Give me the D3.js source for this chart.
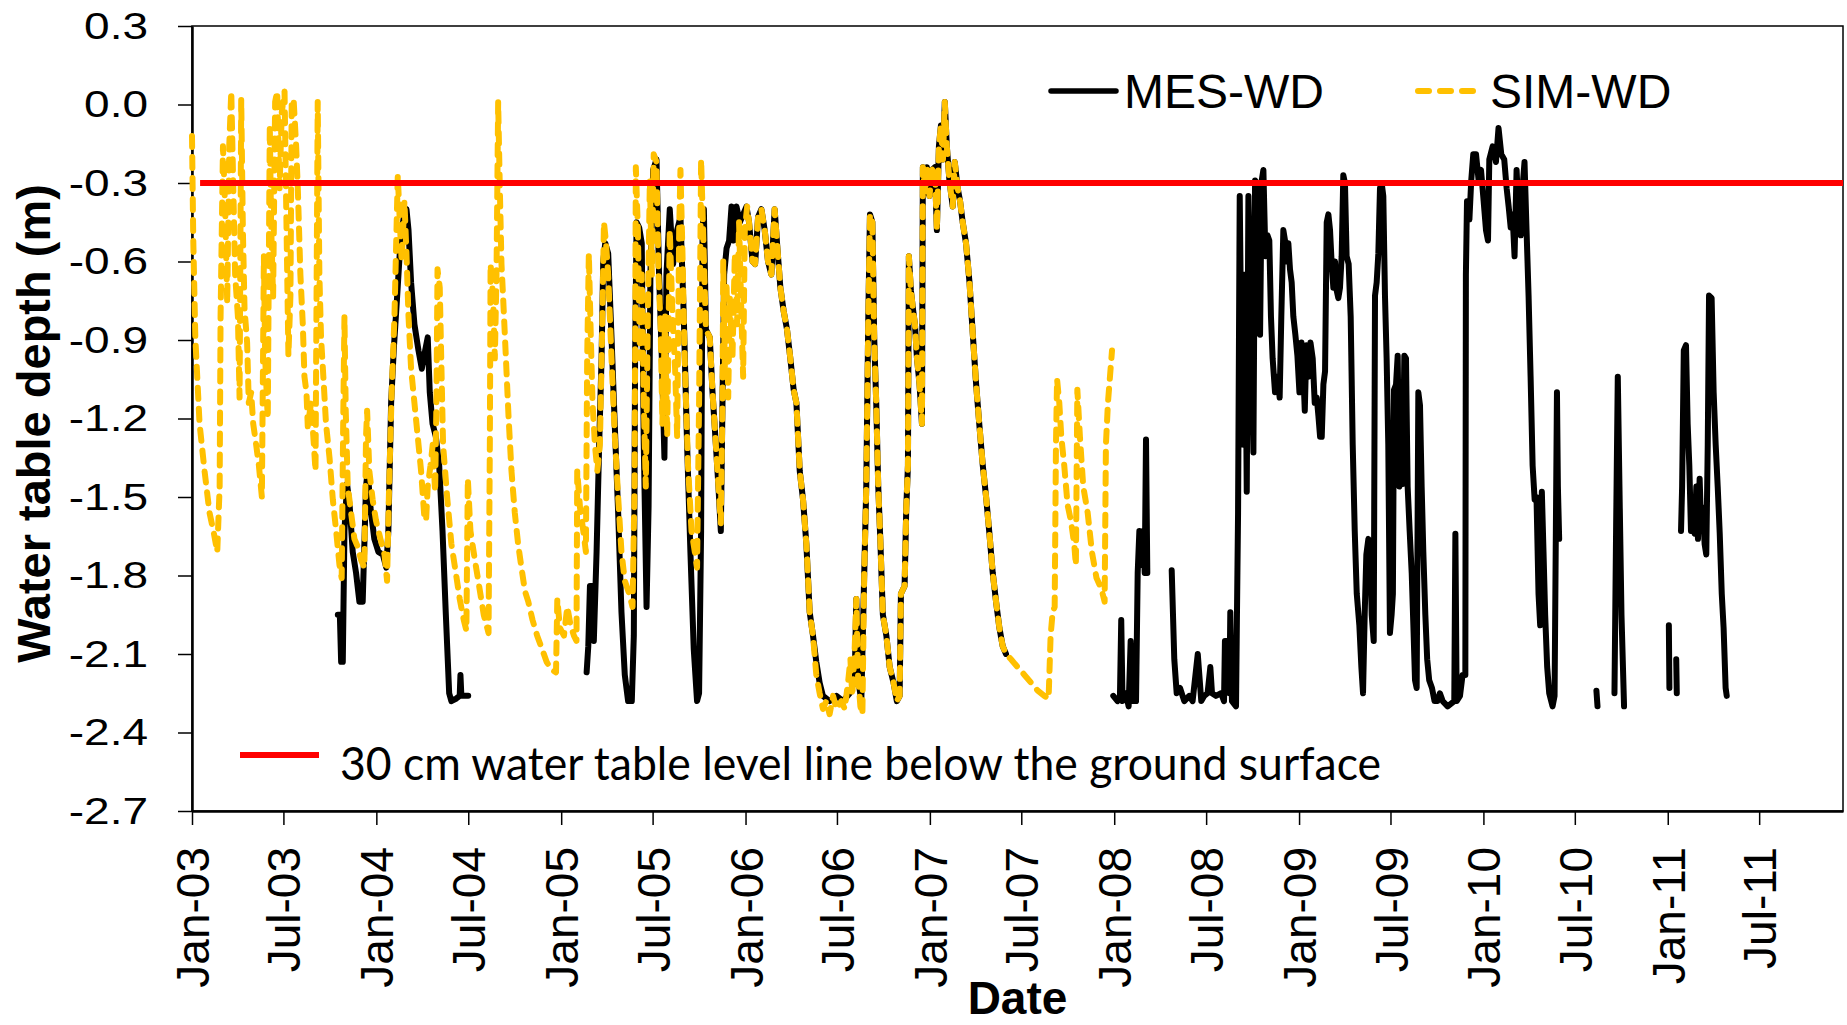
<!DOCTYPE html>
<html>
<head>
<meta charset="utf-8">
<script src="https://cdn.jsdelivr.net/npm/d3@7"></script>
<style>
  body { margin: 0; background: #fff; }
</style>
</head>
<body>
<div id="viz"></div>
<script>
// values: [decimal year, water table depth (m)], null = no record

// measured water depth
const mesWD = [
  [2003.791,-1.95],[2003.802,-1.95],[2003.809,-2.13],[2003.818,-2.13],[2003.827,-1.63],[2003.841,-1.45],[2003.856,-1.54],
  [2003.872,-1.71],[2003.890,-1.79],[2003.908,-1.90],[2003.926,-1.90],[2003.944,-1.46],[2003.953,-1.40],[2003.968,-1.54],
  [2003.989,-1.66],[2004.011,-1.71],[2004.035,-1.72],[2004.054,-1.77],[2004.065,-1.63],[2004.080,-1.14],[2004.094,-0.94],
  [2004.112,-0.74],[2004.130,-0.53],[2004.148,-0.43],[2004.163,-0.40],[2004.174,-0.48],[2004.188,-0.68],[2004.206,-0.84],
  [2004.228,-0.94],[2004.246,-1.01],[2004.264,-0.94],[2004.278,-0.89],[2004.289,-1.10],[2004.304,-1.22],[2004.322,-1.27],
  [2004.340,-1.38],[2004.358,-1.63],[2004.376,-1.95],[2004.394,-2.25],[2004.406,-2.28],[2004.433,-2.27],[2004.451,-2.26],
  [2004.455,-2.18],[2004.460,-2.26],[2004.497,-2.26],
  [2004.600,null],
  [2005.138,-2.17],[2005.147,-2.07],[2005.156,-1.84],[2005.167,-1.84],[2005.177,-2.05],[2005.192,-1.71],[2005.206,-1.30],
  [2005.219,-0.97],[2005.228,-0.60],[2005.239,-0.53],[2005.255,-0.57],[2005.273,-0.89],[2005.291,-1.23],[2005.309,-1.56],
  [2005.327,-1.94],[2005.345,-2.18],[2005.363,-2.28],[2005.383,-2.28],[2005.394,-2.03],[2005.401,-0.97],[2005.409,-0.45],
  [2005.423,-0.47],[2005.437,-0.53],[2005.448,-1.30],[2005.463,-1.92],[2005.474,-1.54],[2005.484,-0.65],[2005.499,-0.25],
  [2005.517,-0.21],[2005.531,-0.65],[2005.546,-0.97],[2005.560,-1.35],[2005.571,-0.65],[2005.589,-0.40],[2005.607,-0.61],
  [2005.629,-0.48],[2005.647,-0.43],[2005.665,-0.81],[2005.683,-1.30],[2005.701,-1.71],[2005.719,-2.08],[2005.737,-2.28],
  [2005.748,-2.25],[2005.759,-1.63],[2005.767,-0.48],[2005.774,-0.40],[2005.785,-0.86],[2005.806,-0.89],[2005.821,-1.10],
  [2005.839,-1.30],[2005.853,-1.46],[2005.866,-1.63],[2005.875,-1.14],[2005.884,-0.65],[2005.897,-0.55],[2005.911,-0.52],
  [2005.924,-0.39],[2005.936,-0.52],[2005.951,-0.39],[2005.969,-0.45],[2005.987,-0.42],[2006.005,-0.39],[2006.019,-0.45],
  [2006.038,-0.60],[2006.052,-0.61],[2006.068,-0.43],[2006.086,-0.40],[2006.104,-0.48],[2006.122,-0.60],[2006.140,-0.65],
  [2006.158,-0.40],[2006.173,-0.55],[2006.189,-0.70],[2006.207,-0.79],[2006.225,-0.86],[2006.243,-0.97],[2006.261,-1.09],
  [2006.276,-1.14],[2006.294,-1.40],[2006.312,-1.51],[2006.330,-1.68],[2006.348,-1.94],[2006.366,-2.03],[2006.384,-2.13],
  [2006.402,-2.21],[2006.420,-2.26],[2006.456,-2.28],[2006.493,-2.26],[2006.529,-2.28],[2006.565,-2.25],[2006.592,-2.20],
  [2006.601,-1.89],[2006.612,-2.20],[2006.628,-2.28],[2006.644,-1.79],[2006.655,-1.46],[2006.666,-0.81],[2006.675,-0.42],
  [2006.688,-0.45],[2006.698,-0.89],[2006.709,-1.14],[2006.720,-1.46],[2006.731,-1.66],[2006.745,-1.95],[2006.764,-2.03],
  [2006.782,-2.15],[2006.803,-2.21],[2006.821,-2.28],[2006.836,-2.26],[2006.843,-1.87],[2006.863,-1.84],[2006.872,-1.54],
  [2006.881,-1.38],[2006.886,-0.58],[2006.897,-0.71],[2006.908,-0.78],[2006.919,-0.84],[2006.930,-0.97],[2006.944,-1.07],
  [2006.957,-1.22],[2006.962,-0.24],[2006.973,-0.34],[2006.984,-0.24],[2006.998,-0.35],[2007.011,-0.25],[2007.027,-0.24],
  [2007.038,-0.48],[2007.049,-0.16],[2007.060,-0.08],[2007.071,-0.21],[2007.081,0.01],[2007.092,-0.16],[2007.106,-0.29],
  [2007.124,-0.39],[2007.135,-0.22],[2007.151,-0.32],[2007.164,-0.37],[2007.178,-0.45],[2007.196,-0.53],[2007.215,-0.68],
  [2007.233,-0.88],[2007.251,-1.07],[2007.269,-1.23],[2007.287,-1.38],[2007.305,-1.50],[2007.323,-1.64],[2007.341,-1.79],
  [2007.359,-1.90],[2007.377,-2.00],[2007.395,-2.07],[2007.413,-2.10],
  [2007.700,null],
  [2007.995,-2.26],[2008.018,-2.28],[2008.031,-2.26],[2008.038,-1.97],[2008.045,-2.28],[2008.063,-2.25],[2008.078,-2.30],
  [2008.089,-2.05],[2008.099,-2.28],[2008.118,-2.28],[2008.127,-1.79],[2008.136,-1.63],[2008.146,-1.76],[2008.157,-1.63],
  [2008.165,-1.79],[2008.172,-1.28],[2008.179,-1.79],
  [2008.250,null],
  [2008.311,-1.78],[2008.325,-2.12],[2008.338,-2.25],[2008.356,-2.23],[2008.379,-2.28],[2008.406,-2.26],[2008.424,-2.28],
  [2008.452,-2.10],[2008.471,-2.28],[2008.487,-2.26],[2008.505,-2.25],[2008.520,-2.15],[2008.529,-2.25],[2008.550,-2.26],
  [2008.578,-2.25],[2008.594,-2.28],[2008.599,-2.05],[2008.614,-2.05],[2008.623,-2.25],[2008.628,-1.94],[2008.637,-2.28],
  [2008.659,-2.30],[2008.664,-1.95],[2008.670,-1.56],[2008.679,-0.35],[2008.688,-0.97],[2008.699,-1.30],[2008.708,-0.65],
  [2008.717,-1.48],[2008.726,-0.35],[2008.735,-0.65],[2008.744,-0.97],[2008.753,-1.33],[2008.762,-0.29],[2008.771,-0.30],
  [2008.780,-0.52],[2008.789,-0.88],[2008.798,-0.29],[2008.807,-0.25],[2008.818,-0.58],[2008.829,-0.50],[2008.839,-0.52],
  [2008.848,-0.81],[2008.857,-0.97],[2008.870,-1.10],[2008.883,-1.04],[2008.895,-1.12],[2008.904,-0.81],[2008.915,-0.48],
  [2008.924,-0.52],[2008.933,-0.60],[2008.942,-0.53],[2008.951,-0.63],[2008.960,-0.68],[2008.969,-0.81],[2008.980,-0.88],
  [2008.991,-0.96],[2009.002,-1.10],[2009.013,-0.91],[2009.024,-1.04],[2009.031,-1.17],[2009.040,-0.92],[2009.051,-1.04],
  [2009.062,-0.91],[2009.074,-0.97],[2009.085,-1.14],[2009.096,-1.12],[2009.105,-1.19],[2009.114,-1.27],[2009.123,-1.27],
  [2009.132,-1.07],[2009.141,-1.02],[2009.150,-0.45],[2009.159,-0.42],[2009.168,-0.48],[2009.177,-0.61],[2009.186,-0.70],
  [2009.195,-0.60],[2009.204,-0.71],[2009.213,-0.74],[2009.222,-0.70],[2009.231,-0.58],[2009.240,-0.27],[2009.249,-0.30],
  [2009.258,-0.58],[2009.269,-0.61],[2009.280,-0.81],[2009.291,-1.30],[2009.302,-1.63],[2009.313,-1.87],[2009.327,-1.99],
  [2009.338,-2.15],[2009.347,-2.25],[2009.356,-1.95],[2009.365,-1.72],[2009.376,-1.66],[2009.385,-1.68],[2009.394,-1.95],
  [2009.405,-2.05],[2009.412,-0.73],[2009.421,-0.68],[2009.430,-0.57],[2009.439,-0.32],[2009.448,-0.30],[2009.457,-0.35],
  [2009.466,-0.73],[2009.475,-0.97],[2009.484,-1.30],[2009.493,-2.02],[2009.502,-1.95],[2009.509,-1.87],[2009.515,-1.09],
  [2009.526,-1.07],[2009.535,-0.96],[2009.544,-1.46],[2009.553,-1.33],[2009.562,-1.45],[2009.571,-0.96],[2009.580,-0.97],
  [2009.589,-1.46],[2009.600,-1.63],[2009.611,-1.79],[2009.620,-1.99],[2009.629,-2.20],[2009.638,-2.23],[2009.647,-1.10],
  [2009.656,-1.15],[2009.665,-1.46],[2009.674,-1.71],[2009.685,-1.95],[2009.695,-2.12],[2009.706,-2.20],[2009.721,-2.23],
  [2009.735,-2.28],[2009.751,-2.28],[2009.764,-2.25],[2009.779,-2.28],[2009.806,-2.30],[2009.842,-2.28],[2009.848,-1.64],
  [2009.855,-2.28],[2009.873,-2.26],[2009.887,-2.18],[2009.902,-2.18],[2009.905,-0.65],[2009.911,-0.37],[2009.924,-0.44],
  [2009.934,-0.29],[2009.945,-0.19],[2009.960,-0.19],[2009.974,-0.29],[2009.987,-0.25],[2009.999,-0.35],[2010.014,-0.48],
  [2010.025,-0.52],[2010.032,-0.21],[2010.050,-0.16],[2010.068,-0.22],[2010.082,-0.09],[2010.097,-0.19],[2010.113,-0.21],
  [2010.126,-0.32],[2010.137,-0.39],[2010.148,-0.47],[2010.158,-0.42],[2010.169,-0.58],[2010.180,-0.25],[2010.191,-0.42],
  [2010.203,-0.50],[2010.212,-0.32],[2010.223,-0.22],[2010.234,-0.48],[2010.245,-0.73],[2010.256,-1.04],[2010.267,-1.38],
  [2010.278,-1.51],[2010.288,-1.50],[2010.299,-1.87],[2010.308,-1.99],[2010.317,-1.48],[2010.326,-1.71],[2010.335,-1.95],
  [2010.346,-2.15],[2010.357,-2.25],[2010.375,-2.30],[2010.386,-2.26],[2010.393,-1.63],[2010.399,-1.10],[2010.404,-1.46],
  [2010.411,-1.66],
  [2010.500,null],
  [2010.613,-2.24],[2010.619,-2.30],
  [2010.650,null],
  [2010.711,-2.25],[2010.720,-1.61],[2010.729,-1.04],[2010.738,-1.46],[2010.749,-1.95],[2010.763,-2.30],
  [2010.900,null],
  [2011.006,-1.99],[2011.009,-2.23],
  [2011.030,null],
  [2011.046,-2.12],[2011.049,-2.25],
  [2011.060,null],
  [2011.072,-1.63],[2011.078,-1.46],[2011.087,-0.94],[2011.099,-0.92],[2011.108,-1.22],[2011.117,-1.38],[2011.126,-1.63],
  [2011.137,-1.54],[2011.146,-1.64],[2011.155,-1.46],[2011.164,-1.66],[2011.173,-1.43],[2011.182,-1.63],[2011.191,-1.54],
  [2011.200,-1.68],[2011.209,-1.72],[2011.217,-1.30],[2011.224,-0.73],[2011.238,-0.74],[2011.249,-1.10],[2011.260,-1.30],
  [2011.271,-1.46],[2011.282,-1.64],[2011.293,-1.87],[2011.303,-2.00],[2011.314,-2.23],[2011.320,-2.26]
];

// simulated water depth
const simWD = [
  [2003.000,-0.12],[2003.007,-0.52],[2003.018,-0.89],[2003.041,-1.22],[2003.068,-1.40],[2003.095,-1.56],[2003.119,-1.64],
  [2003.137,-1.71],[2003.150,-1.46],[2003.155,-0.81],[2003.168,-0.16],[2003.180,-0.40],[2003.191,-0.76],[2003.202,-0.16],
  [2003.213,0.05],[2003.224,-0.32],[2003.234,-0.65],[2003.249,-0.81],[2003.258,-1.12],[2003.267,0.02],[2003.276,-0.48],
  [2003.285,-0.78],[2003.299,-0.91],[2003.308,-1.14],[2003.321,-1.10],[2003.332,-1.22],[2003.348,-1.30],[2003.363,-1.38],
  [2003.379,-1.50],[2003.390,-0.58],[2003.397,-0.97],[2003.411,-1.20],[2003.422,-0.08],[2003.429,-0.45],[2003.440,-0.74],
  [2003.451,0.01],[2003.462,0.05],[2003.475,-0.32],[2003.487,-0.03],[2003.502,0.05],[2003.513,-0.48],[2003.523,-0.96],
  [2003.534,-0.73],[2003.541,0.02],[2003.552,0.01],[2003.565,-0.16],[2003.574,-0.32],[2003.588,-0.65],[2003.601,-0.84],
  [2003.610,-1.04],[2003.621,-1.10],[2003.628,-1.23],[2003.646,-1.14],[2003.661,-1.30],[2003.670,-1.40],[2003.675,-0.81],
  [2003.682,0.01],[2003.691,-0.65],[2003.700,-0.89],[2003.715,-1.07],[2003.727,-1.22],[2003.746,-1.35],[2003.764,-1.51],
  [2003.782,-1.63],[2003.800,-1.76],[2003.812,-1.81],[2003.820,-1.23],[2003.827,-0.81],[2003.834,-1.17],[2003.845,-1.46],
  [2003.863,-1.56],[2003.881,-1.66],[2003.899,-1.69],[2003.917,-1.74],[2003.935,-1.77],[2003.944,-1.27],[2003.950,-1.17],
  [2003.962,-1.40],[2003.980,-1.51],[2003.998,-1.59],[2004.022,-1.66],[2004.044,-1.72],[2004.058,-1.82],[2004.069,-1.46],
  [2004.083,-1.10],[2004.098,-0.81],[2004.109,-0.48],[2004.116,-0.27],[2004.127,-0.45],[2004.137,-0.60],[2004.152,-0.37],
  [2004.163,-0.57],[2004.174,-0.81],[2004.188,-1.01],[2004.206,-1.14],[2004.224,-1.27],[2004.242,-1.40],[2004.260,-1.58],
  [2004.269,-1.59],[2004.278,-1.46],[2004.293,-1.38],[2004.305,-1.30],[2004.318,-1.48],[2004.325,-1.14],[2004.331,-0.63],
  [2004.343,-0.70],[2004.361,-1.30],[2004.383,-1.50],[2004.406,-1.68],[2004.430,-1.79],[2004.451,-1.89],[2004.473,-1.97],
  [2004.487,-2.01],[2004.495,-1.43],[2004.509,-1.63],[2004.533,-1.74],[2004.556,-1.84],[2004.581,-1.95],[2004.607,-2.02],
  [2004.614,-1.30],[2004.618,-0.61],[2004.632,-0.74],[2004.641,-0.97],[2004.650,-0.65],[2004.659,0.01],[2004.668,-0.32],
  [2004.677,-0.61],[2004.686,-0.74],[2004.701,-0.97],[2004.715,-1.19],[2004.731,-1.40],[2004.749,-1.56],[2004.767,-1.68],
  [2004.785,-1.77],[2004.804,-1.86],[2004.822,-1.90],[2004.845,-1.97],[2004.870,-2.03],[2004.896,-2.08],[2004.921,-2.13],
  [2004.948,-2.16],[2004.972,-2.17],[2004.979,-1.89],[2004.993,-2.00],[2005.015,-2.03],[2005.033,-1.92],[2005.051,-1.99],
  [2005.069,-2.03],[2005.083,-2.05],[2005.087,-1.40],[2005.102,-1.54],[2005.120,-1.63],[2005.134,-1.71],[2005.141,-0.97],
  [2005.150,-0.57],[2005.159,-0.84],[2005.170,-1.14],[2005.183,-1.30],[2005.196,-1.40],[2005.210,-1.30],[2005.221,-0.91],
  [2005.232,-0.45],[2005.242,-0.52],[2005.255,-0.65],[2005.273,-0.97],[2005.291,-1.27],[2005.309,-1.50],[2005.327,-1.71],
  [2005.345,-1.82],[2005.369,-1.87],[2005.387,-1.92],[2005.398,-1.46],[2005.405,-0.24],[2005.416,-0.48],[2005.427,-0.97],
  [2005.437,-0.65],[2005.448,-1.14],[2005.459,-1.46],[2005.470,-0.81],[2005.481,-0.29],[2005.492,-0.65],[2005.502,-0.19],
  [2005.517,-0.22],[2005.528,-0.65],[2005.539,-0.84],[2005.549,-1.22],[2005.564,-0.81],[2005.575,-1.27],[2005.589,-0.48],
  [2005.604,-0.81],[2005.618,-1.01],[2005.629,-1.27],[2005.640,-0.48],[2005.647,-0.25],[2005.658,-0.57],[2005.670,-0.97],
  [2005.688,-1.38],[2005.707,-1.63],[2005.725,-1.71],[2005.737,-1.77],[2005.748,-1.14],[2005.759,-0.21],[2005.785,-0.86],
  [2005.806,-0.89],[2005.821,-1.10],[2005.839,-1.30],[2005.853,-1.46],[2005.866,-1.60],[2005.875,-1.14],[2005.879,-0.60],
  [2005.888,-1.01],[2005.897,-0.68],[2005.906,-1.12],[2005.915,-0.74],[2005.929,-0.97],[2005.942,-0.57],[2005.954,-0.84],
  [2005.965,-0.45],[2005.978,-0.81],[2005.987,-1.04],[2005.996,-0.48],[2006.009,-0.39],[2006.019,-0.45],[2006.038,-0.60],
  [2006.052,-0.61],[2006.068,-0.43],[2006.086,-0.40],[2006.104,-0.48],[2006.122,-0.60],[2006.140,-0.65],[2006.158,-0.40],
  [2006.173,-0.55],[2006.189,-0.70],[2006.207,-0.79],[2006.225,-0.86],[2006.243,-0.97],[2006.261,-1.09],[2006.276,-1.14],
  [2006.294,-1.40],[2006.312,-1.51],[2006.330,-1.68],[2006.348,-1.94],[2006.366,-2.03],[2006.384,-2.18],[2006.402,-2.25],
  [2006.420,-2.31],[2006.438,-2.28],[2006.456,-2.33],[2006.475,-2.26],[2006.493,-2.31],[2006.520,-2.28],[2006.538,-2.31],
  [2006.556,-2.21],[2006.569,-2.12],[2006.579,-2.26],[2006.592,-2.08],[2006.601,-1.89],[2006.610,-2.18],[2006.623,-2.30],
  [2006.634,-2.33],[2006.644,-1.79],[2006.655,-1.46],[2006.666,-0.81],[2006.675,-0.42],[2006.688,-0.45],[2006.698,-0.89],
  [2006.709,-1.14],[2006.720,-1.46],[2006.731,-1.66],[2006.745,-1.95],[2006.764,-2.03],[2006.782,-2.15],[2006.803,-2.21],
  [2006.821,-2.28],[2006.836,-2.26],[2006.843,-1.87],[2006.863,-1.84],[2006.872,-1.54],[2006.881,-1.38],[2006.886,-0.58],
  [2006.897,-0.71],[2006.908,-0.78],[2006.919,-0.84],[2006.930,-0.97],[2006.944,-1.07],[2006.957,-1.22],[2006.962,-0.24],
  [2006.973,-0.34],[2006.984,-0.24],[2006.998,-0.35],[2007.011,-0.25],[2007.027,-0.24],[2007.038,-0.48],[2007.049,-0.16],
  [2007.060,-0.08],[2007.071,-0.21],[2007.081,0.01],[2007.092,-0.16],[2007.106,-0.29],[2007.124,-0.39],[2007.135,-0.22],
  [2007.151,-0.32],[2007.164,-0.37],[2007.178,-0.45],[2007.196,-0.53],[2007.215,-0.68],[2007.233,-0.88],[2007.251,-1.07],
  [2007.269,-1.23],[2007.287,-1.38],[2007.305,-1.50],[2007.323,-1.64],[2007.341,-1.79],[2007.359,-1.90],[2007.377,-2.00],
  [2007.395,-2.07],[2007.413,-2.10],[2007.440,-2.12],[2007.476,-2.15],[2007.513,-2.18],[2007.549,-2.21],[2007.585,-2.24],
  [2007.621,-2.26],[2007.644,-2.27],[2007.655,-2.03],[2007.666,-1.94],[2007.677,-1.92],[2007.684,-1.30],[2007.690,-1.05],
  [2007.702,-1.14],[2007.713,-1.27],[2007.729,-1.38],[2007.747,-1.53],[2007.765,-1.59],[2007.783,-1.68],[2007.792,-1.76],
  [2007.800,-1.09],[2007.814,-1.27],[2007.832,-1.46],[2007.856,-1.56],[2007.879,-1.71],[2007.904,-1.81],[2007.930,-1.85],
  [2007.948,-1.90],[2007.955,-1.30],[2007.966,-1.14],[2007.977,-1.04],[2007.988,-0.94]
];

// 30 cm threshold line
const limitDates = ["2003-01-17", "2011-12-14"];
const limitDepth = -0.3;

const yTicks = [0.3, 0.0, -0.3, -0.6, -0.9, -1.2, -1.5, -1.8, -2.1, -2.4, -2.7];
const xStart = "2003-01-01";
const xEnd = "2011-12-14";
const xTickEnd = "2011-07-01";

const seriesNames = ["MES-WD", "SIM-WD"];
const limitLabel = "30 cm water table level line below the ground surface";

const W = 1847, H = 1025;
const plot = { left: 192, right: 1843, top: 26, bottom: 811 };
const parseDay = d3.timeParse("%Y-%m-%d");

function yearToDate(t) {
  const yr = Math.floor(t);
  const a = new Date(yr, 0, 1), b = new Date(yr + 1, 0, 1);
  return new Date(+a + (t - yr) * (b - a));
}

const svg = d3.select("#viz")
              .append("svg")
              .attr("width", W)
              .attr("height", H)
              .style("font-family", "'Liberation Sans', Arial, sans-serif")
              .style("background", "#fff");

const x = d3.scaleTime()
            .domain([parseDay(xStart), parseDay(xEnd)])
            .range([plot.left, plot.right]);

const y = d3.scaleLinear()
            .domain([-2.7, 0.3])
            .range([plot.bottom, plot.top]);

// plot frame
svg.append("rect")
   .attr("x", plot.left)
   .attr("y", plot.top)
   .attr("width", plot.right - plot.left)
   .attr("height", plot.bottom - plot.top)
   .attr("fill", "none")
   .attr("stroke", "#000")
   .attr("stroke-width", 1.5);

// y axis
const yAxis = svg.append("g")
   .attr("transform", `translate(${plot.left},0)`)
   .call(d3.axisLeft(y).tickValues(yTicks).tickFormat(d => d.toFixed(1)).tickSize(14).tickSizeOuter(0));
yAxis.select(".domain").attr("stroke-width", 2.5);
yAxis.selectAll(".tick line").attr("stroke-width", 1.5);
yAxis.selectAll("text")
     .attr("x", -44)
     .attr("transform", "scale(1,0.82)")
     .style("font-size", "46px")
     .attr("fill", "#000");

// x axis
const xTicks = d3.timeMonth.every(6).range(parseDay(xStart), d3.timeDay.offset(parseDay(xTickEnd), 1));
const xAxis = svg.append("g")
   .attr("transform", `translate(0,${plot.bottom})`)
   .call(d3.axisBottom(x).tickValues(xTicks).tickFormat(d3.timeFormat("%b-%y")).tickSize(14).tickSizeOuter(0));
xAxis.select(".domain").attr("stroke-width", 2.5);
xAxis.selectAll(".tick line").attr("stroke-width", 1.5);
xAxis.selectAll("text")
     .attr("transform", "rotate(-90)")
     .attr("x", -36)
     .attr("y", 0)
     .attr("dy", "0.36em")
     .style("text-anchor", "end")
     .style("font-size", "46px")
     .attr("fill", "#000");

// axis titles
svg.append("text")
   .attr("transform", `translate(50,${(plot.top + plot.bottom) / 2 + 5}) rotate(-90)`)
   .attr("text-anchor", "middle")
   .style("font-size", "47px")
   .style("font-weight", "bold")
   .text("Water table depth (m)");

svg.append("text")
   .attr("x", (plot.left + plot.right) / 2)
   .attr("y", 1014)
   .attr("text-anchor", "middle")
   .style("font-size", "46px")
   .style("font-weight", "bold")
   .text("Date");

const line = d3.line()
               .defined(d => d[1] !== null)
               .x(d => x(yearToDate(d[0])))
               .y(d => y(d[1]));

svg.append("path")
   .datum(mesWD)
   .attr("d", line)
   .attr("fill", "none")
   .attr("stroke", "#000")
   .attr("stroke-width", 6)
   .attr("stroke-linejoin", "round")
   .attr("stroke-linecap", "round");

svg.append("path")
   .datum(simWD)
   .attr("d", line)
   .attr("fill", "none")
   .attr("stroke", "#FFC000")
   .attr("stroke-width", 6)
   .attr("stroke-dasharray", "11,10")
   .attr("stroke-linejoin", "round")
   .attr("stroke-linecap", "round");

// threshold line
svg.append("line")
   .attr("x1", x(parseDay(limitDates[0])))
   .attr("x2", x(parseDay(limitDates[1])))
   .attr("y1", y(limitDepth))
   .attr("y2", y(limitDepth))
   .attr("stroke", "#FF0000")
   .attr("stroke-width", 6);

// legend
const lg = svg.append("g");
lg.append("line")
  .attr("x1", 1051).attr("x2", 1116).attr("y1", 91).attr("y2", 91)
  .attr("stroke", "#000").attr("stroke-width", 5.5).attr("stroke-linecap", "round");
lg.append("text")
  .attr("x", 1124).attr("y", 108)
  .style("font-size", "48px")
  .text(seriesNames[0]);
lg.append("line")
  .attr("x1", 1418).attr("x2", 1473).attr("y1", 91).attr("y2", 91)
  .attr("stroke", "#FFC000").attr("stroke-width", 6).attr("stroke-linecap", "round")
  .attr("stroke-dasharray", "11,11");
lg.append("text")
  .attr("x", 1490).attr("y", 108)
  .style("font-size", "48px")
  .text(seriesNames[1]);

lg.append("line")
  .attr("x1", 240).attr("x2", 319).attr("y1", 755).attr("y2", 755)
  .attr("stroke", "#FF0000").attr("stroke-width", 6);
lg.append("text")
  .attr("x", 340).attr("y", 780)
  .attr("textLength", 1041)
  .attr("lengthAdjust", "spacingAndGlyphs")
  .style("font-family", "Lato, 'Open Sans', sans-serif")
  .style("font-size", "46px")
  .text(limitLabel);
</script>
</body>
</html>
